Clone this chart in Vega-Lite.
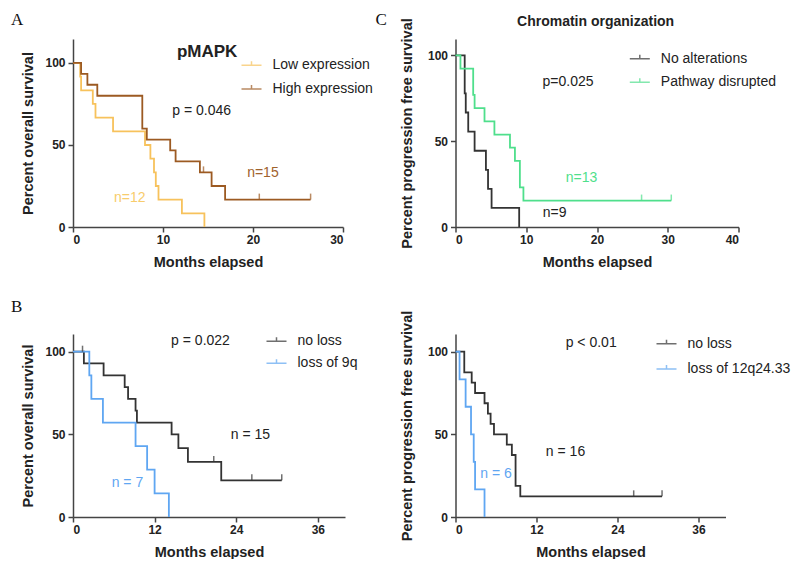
{
  "$schema": "https://vega.github.io/schema/vega-lite/v6.json",
  "background": "white",
  "padding": {"left": 10, "top": 10, "right": 0, "bottom": 0},
  "columns": 2,
  "bounds": "flush",
  "align": "each",
  "spacing": {"column": 110.5, "row": 107},
  "resolve": {
    "scale": {"color": "independent", "x": "independent", "y": "independent"},
    "legend": {"color": "independent"}
  },
  "concat": [
    {
      "width": 270,
      "height": 188,
      "layer": [
        {
          "data": {"values": [
            {"group": "Low expression", "t": 0, "s": 100},
            {"group": "Low expression", "t": 0.8, "s": 91.7},
            {"group": "Low expression", "t": 0.9, "s": 83.3},
            {"group": "Low expression", "t": 2.2, "s": 75},
            {"group": "Low expression", "t": 2.5, "s": 66.7},
            {"group": "Low expression", "t": 4.45, "s": 58.3},
            {"group": "Low expression", "t": 8.0, "s": 50},
            {"group": "Low expression", "t": 8.6, "s": 41.7},
            {"group": "Low expression", "t": 9.0, "s": 33.3},
            {"group": "Low expression", "t": 9.2, "s": 25},
            {"group": "Low expression", "t": 9.5, "s": 16.7},
            {"group": "Low expression", "t": 12.1, "s": 8.3},
            {"group": "Low expression", "t": 14.6, "s": 0},
            {"group": "High expression", "t": 0, "s": 100},
            {"group": "High expression", "t": 0.9, "s": 93.3},
            {"group": "High expression", "t": 1.6, "s": 86.7},
            {"group": "High expression", "t": 2.7, "s": 80},
            {"group": "High expression", "t": 7.7, "s": 60},
            {"group": "High expression", "t": 8.2, "s": 53.3},
            {"group": "High expression", "t": 10.8, "s": 46.7},
            {"group": "High expression", "t": 11.4, "s": 40},
            {"group": "High expression", "t": 14.1, "s": 33.3},
            {"group": "High expression", "t": 15.4, "s": 25},
            {"group": "High expression", "t": 16.9, "s": 16.7},
            {"group": "High expression", "t": 26.4, "s": 16.7}
          ]},
          "mark": {"type": "line", "interpolate": "step-after", "strokeWidth": 1.8},
          "encoding": {
            "x": {"field": "t", "type": "quantitative", "scale": {"domain": [0, 30], "nice": false, "zero": false}, "axis": {"values": [0, 10, 20, 30], "title": "Months elapsed"}},
            "y": {"field": "s", "type": "quantitative", "scale": {"domain": [0, 114.6], "nice": false}, "axis": {"values": [0, 50, 100], "title": "Percent overall survival"}},
            "color": {"field": "group", "type": "nominal", "scale": {"domain": ["Low expression", "High expression"], "range": ["#F7C25C", "#9C5A22"]}, "legend": {"legendX": 167.5, "legendY": 15.3, "rowPadding": 5.6}}
          }
        },
        {
          "data": {"values": [
            {"group": "High expression", "t": 14.5, "s": 33.3},
            {"group": "High expression", "t": 20.7, "s": 16.7},
            {"group": "High expression", "t": 26.4, "s": 16.7}
          ]},
          "mark": {"type": "tick", "orient": "vertical", "size": 6, "thickness": 1.5, "yOffset": -3},
          "encoding": {
            "x": {"field": "t", "type": "quantitative"},
            "y": {"field": "s", "type": "quantitative"},
            "color": {"field": "group", "type": "nominal"}
          }
        },
        {"data": {"values": [{}]}, "mark": {"type": "text", "text": "A", "font": "Liberation Serif", "fontSize": 17, "color": "#111"},
         "encoding": {"x": {"datum": -6.2, "type": "quantitative"}, "y": {"datum": 126, "type": "quantitative"}}},
        {"data": {"values": [{}]}, "mark": {"type": "text", "text": "pMAPK", "fontSize": 17, "fontWeight": "bold"},
         "encoding": {"x": {"datum": 14.9, "type": "quantitative"}, "y": {"datum": 106.7, "type": "quantitative"}}},
        {"data": {"values": [{}]}, "mark": {"type": "text", "text": "p = 0.046"},
         "encoding": {"x": {"datum": 14.3, "type": "quantitative"}, "y": {"datum": 70.7, "type": "quantitative"}}},
        {"data": {"values": [{}]}, "mark": {"type": "text", "text": "n=15", "color": "#A0622C"},
         "encoding": {"x": {"datum": 21.1, "type": "quantitative"}, "y": {"datum": 33.1, "type": "quantitative"}}},
        {"data": {"values": [{}]}, "mark": {"type": "text", "text": "n=12", "color": "#F8CC6C"},
         "encoding": {"x": {"datum": 6.3, "type": "quantitative"}, "y": {"datum": 17.9, "type": "quantitative"}}}
      ]
    },
    {
      "width": 283,
      "height": 188,
      "layer": [
        {
          "data": {"values": [
            {"group": "No alterations", "t": 0, "s": 100},
            {"group": "No alterations", "t": 1.3, "s": 77.8},
            {"group": "No alterations", "t": 1.45, "s": 66.7},
            {"group": "No alterations", "t": 1.8, "s": 55.6},
            {"group": "No alterations", "t": 2.7, "s": 44.4},
            {"group": "No alterations", "t": 4.3, "s": 33.3},
            {"group": "No alterations", "t": 4.6, "s": 22.2},
            {"group": "No alterations", "t": 5.1, "s": 11.1},
            {"group": "No alterations", "t": 9.0, "s": 0},
            {"group": "Pathway disrupted", "t": 0, "s": 100},
            {"group": "Pathway disrupted", "t": 0.7, "s": 92.3},
            {"group": "Pathway disrupted", "t": 2.5, "s": 76.9},
            {"group": "Pathway disrupted", "t": 2.7, "s": 69.2},
            {"group": "Pathway disrupted", "t": 4.1, "s": 61.5},
            {"group": "Pathway disrupted", "t": 5.5, "s": 53.8},
            {"group": "Pathway disrupted", "t": 7.7, "s": 46.2},
            {"group": "Pathway disrupted", "t": 8.4, "s": 38.5},
            {"group": "Pathway disrupted", "t": 9.1, "s": 23.1},
            {"group": "Pathway disrupted", "t": 9.6, "s": 15.4},
            {"group": "Pathway disrupted", "t": 30.5, "s": 15.4}
          ]},
          "mark": {"type": "line", "interpolate": "step-after", "strokeWidth": 1.8},
          "encoding": {
            "x": {"field": "t", "type": "quantitative", "scale": {"domain": [0, 40], "nice": false, "zero": false}, "axis": {"values": [0, 10, 20, 30, 40], "title": "Months elapsed"}},
            "y": {"field": "s", "type": "quantitative", "scale": {"domain": [0, 109.5], "nice": false}, "axis": {"values": [0, 50, 100], "title": "Percent progression free survival", "titlePadding": 13}},
            "color": {"field": "group", "type": "nominal", "scale": {"domain": ["No alterations", "Pathway disrupted"], "range": ["#333333", "#4FDF8C"]}, "legend": {"legendX": 173.3, "legendY": 8.7, "rowPadding": 5.6}}
          }
        },
        {
          "data": {"values": [
            {"group": "Pathway disrupted", "t": 26.3, "s": 15.4},
            {"group": "Pathway disrupted", "t": 30.5, "s": 15.4}
          ]},
          "mark": {"type": "tick", "orient": "vertical", "size": 6, "thickness": 1.5, "yOffset": -3},
          "encoding": {
            "x": {"field": "t", "type": "quantitative"},
            "y": {"field": "s", "type": "quantitative"},
            "color": {"field": "group", "type": "nominal"}
          }
        },
        {"data": {"values": [{}]}, "mark": {"type": "text", "text": "C", "font": "Liberation Serif", "fontSize": 17, "color": "#111"},
         "encoding": {"x": {"datum": -10.5, "type": "quantitative"}, "y": {"datum": 120.6, "type": "quantitative"}}},
        {"data": {"values": [{}]}, "mark": {"type": "text", "text": "Chromatin organization", "fontSize": 14, "fontWeight": "bold"},
         "encoding": {"x": {"datum": 19.8, "type": "quantitative"}, "y": {"datum": 119.6, "type": "quantitative"}}},
        {"data": {"values": [{}]}, "mark": {"type": "text", "text": "p=0.025"},
         "encoding": {"x": {"datum": 15.9, "type": "quantitative"}, "y": {"datum": 84.4, "type": "quantitative"}}},
        {"data": {"values": [{}]}, "mark": {"type": "text", "text": "n=13", "color": "#4FDF8C"},
         "encoding": {"x": {"datum": 17.8, "type": "quantitative"}, "y": {"datum": 28.7, "type": "quantitative"}}},
        {"data": {"values": [{}]}, "mark": {"type": "text", "text": "n=9"},
         "encoding": {"x": {"datum": 14.0, "type": "quantitative"}, "y": {"datum": 8.3, "type": "quantitative"}}}
      ]
    },
    {
      "width": 272,
      "height": 183,
      "layer": [
        {
          "data": {"values": [
            {"group": "no loss", "t": 0, "s": 100},
            {"group": "no loss", "t": 1.6, "s": 92.9},
            {"group": "no loss", "t": 4.5, "s": 85.7},
            {"group": "no loss", "t": 7.6, "s": 78.6},
            {"group": "no loss", "t": 8.1, "s": 71.4},
            {"group": "no loss", "t": 9.2, "s": 64.3},
            {"group": "no loss", "t": 9.4, "s": 57.1},
            {"group": "no loss", "t": 14.5, "s": 50},
            {"group": "no loss", "t": 15.5, "s": 41.7},
            {"group": "no loss", "t": 16.9, "s": 33.3},
            {"group": "no loss", "t": 21.8, "s": 22.2},
            {"group": "no loss", "t": 30.7, "s": 22.2},
            {"group": "loss of 9q", "t": 0, "s": 100},
            {"group": "loss of 9q", "t": 2.4, "s": 85.7},
            {"group": "loss of 9q", "t": 2.7, "s": 71.4},
            {"group": "loss of 9q", "t": 4.4, "s": 57.1},
            {"group": "loss of 9q", "t": 9.2, "s": 42.9},
            {"group": "loss of 9q", "t": 10.9, "s": 28.6},
            {"group": "loss of 9q", "t": 12.0, "s": 14.3},
            {"group": "loss of 9q", "t": 14.1, "s": 0}
          ]},
          "mark": {"type": "line", "interpolate": "step-after", "strokeWidth": 1.8},
          "encoding": {
            "x": {"field": "t", "type": "quantitative", "scale": {"domain": [0, 40], "nice": false, "zero": false}, "axis": {"values": [0, 12, 24, 36], "title": "Months elapsed"}},
            "y": {"field": "s", "type": "quantitative", "scale": {"domain": [0, 110.7], "nice": false}, "axis": {"values": [0, 50, 100], "title": "Percent overall survival"}},
            "color": {"field": "group", "type": "nominal", "scale": {"domain": ["no loss", "loss of 9q"], "range": ["#333333", "#5FA6F2"]}, "legend": {"legendX": 192.5, "legendY": -3.7, "rowPadding": 4}}
          }
        },
        {
          "data": {"values": [
            {"group": "no loss", "t": 1.4, "s": 100},
            {"group": "no loss", "t": 20.7, "s": 33.3},
            {"group": "no loss", "t": 26.3, "s": 22.2},
            {"group": "no loss", "t": 30.7, "s": 22.2}
          ]},
          "mark": {"type": "tick", "orient": "vertical", "size": 6, "thickness": 1.5, "yOffset": -3},
          "encoding": {
            "x": {"field": "t", "type": "quantitative"},
            "y": {"field": "s", "type": "quantitative"},
            "color": {"field": "group", "type": "nominal"}
          }
        },
        {"data": {"values": [{}]}, "mark": {"type": "text", "text": "B", "font": "Liberation Serif", "fontSize": 17, "color": "#111"},
         "encoding": {"x": {"datum": -8.3, "type": "quantitative"}, "y": {"datum": 127, "type": "quantitative"}}},
        {"data": {"values": [{}]}, "mark": {"type": "text", "text": "p = 0.022"},
         "encoding": {"x": {"datum": 18.75, "type": "quantitative"}, "y": {"datum": 106.5, "type": "quantitative"}}},
        {"data": {"values": [{}]}, "mark": {"type": "text", "text": "n = 15"},
         "encoding": {"x": {"datum": 26.1, "type": "quantitative"}, "y": {"datum": 49.6, "type": "quantitative"}}},
        {"data": {"values": [{}]}, "mark": {"type": "text", "text": "n = 7", "color": "#5FA6F2"},
         "encoding": {"x": {"datum": 8.0, "type": "quantitative"}, "y": {"datum": 20.8, "type": "quantitative"}}}
      ]
    },
    {
      "width": 270,
      "height": 183,
      "layer": [
        {
          "data": {"values": [
            {"group": "no loss", "t": 0, "s": 100},
            {"group": "no loss", "t": 1.3, "s": 87.5},
            {"group": "no loss", "t": 2.4, "s": 81.3},
            {"group": "no loss", "t": 2.9, "s": 75},
            {"group": "no loss", "t": 4.3, "s": 68.8},
            {"group": "no loss", "t": 4.8, "s": 62.5},
            {"group": "no loss", "t": 5.2, "s": 56.3},
            {"group": "no loss", "t": 5.7, "s": 50},
            {"group": "no loss", "t": 7.6, "s": 43.8},
            {"group": "no loss", "t": 8.35, "s": 37.5},
            {"group": "no loss", "t": 8.9, "s": 18.8},
            {"group": "no loss", "t": 9.6, "s": 12.5},
            {"group": "no loss", "t": 30.6, "s": 12.5},
            {"group": "loss of 12q24.33", "t": 0, "s": 100},
            {"group": "loss of 12q24.33", "t": 0.6, "s": 83.3},
            {"group": "loss of 12q24.33", "t": 1.5, "s": 66.7},
            {"group": "loss of 12q24.33", "t": 2.3, "s": 50},
            {"group": "loss of 12q24.33", "t": 2.7, "s": 33.3},
            {"group": "loss of 12q24.33", "t": 2.9, "s": 16.7},
            {"group": "loss of 12q24.33", "t": 4.3, "s": 0}
          ]},
          "mark": {"type": "line", "interpolate": "step-after", "strokeWidth": 1.8},
          "encoding": {
            "x": {"field": "t", "type": "quantitative", "scale": {"domain": [0, 40], "nice": false, "zero": false}, "axis": {"values": [0, 12, 24, 36], "title": "Months elapsed"}},
            "y": {"field": "s", "type": "quantitative", "scale": {"domain": [0, 110.7], "nice": false}, "axis": {"values": [0, 50, 100], "title": "Percent progression free survival", "titlePadding": 13}},
            "color": {"field": "group", "type": "nominal", "scale": {"domain": ["no loss", "loss of 12q24.33"], "range": ["#333333", "#5FA6F2"]}, "legend": {"legendX": 200, "legendY": -1.3, "rowPadding": 7.3}}
          }
        },
        {
          "data": {"values": [
            {"group": "no loss", "t": 26.4, "s": 12.5},
            {"group": "no loss", "t": 30.6, "s": 12.5}
          ]},
          "mark": {"type": "tick", "orient": "vertical", "size": 6, "thickness": 1.5, "yOffset": -3},
          "encoding": {
            "x": {"field": "t", "type": "quantitative"},
            "y": {"field": "s", "type": "quantitative"},
            "color": {"field": "group", "type": "nominal"}
          }
        },
        {"data": {"values": [{}]}, "mark": {"type": "text", "text": "p < 0.01"},
         "encoding": {"x": {"datum": 20.1, "type": "quantitative"}, "y": {"datum": 105.1, "type": "quantitative"}}},
        {"data": {"values": [{}]}, "mark": {"type": "text", "text": "n = 16"},
         "encoding": {"x": {"datum": 16.3, "type": "quantitative"}, "y": {"datum": 39.3, "type": "quantitative"}}},
        {"data": {"values": [{}]}, "mark": {"type": "text", "text": "n = 6", "color": "#5FA6F2"},
         "encoding": {"x": {"datum": 6.0, "type": "quantitative"}, "y": {"datum": 26.2, "type": "quantitative"}}}
      ]
    }
  ],
  "config": {
    "font": "Liberation Sans",
    "view": {"stroke": null},
    "axis": {
      "grid": false,
      "labelFont": "Liberation Sans",
      "labelFontSize": 12,
      "labelFontWeight": "bold",
      "labelColor": "#222",
      "titleFont": "Liberation Sans",
      "titleFontSize": 14.5,
      "titleFontWeight": "bold",
      "titleColor": "#222",
      "domainColor": "#444",
      "domainWidth": 1.5,
      "tickColor": "#444",
      "tickWidth": 1.5,
      "tickSize": 5,
      "labelPadding": 2
    },
    "axisX": {"titlePadding": 10},
    "axisY": {"titlePadding": 9, "labelPadding": 3},
    "legend": {
      "orient": "none",
      "title": null,
      "labelFont": "Liberation Sans",
      "labelFontSize": 14,
      "labelColor": "#222",
      "symbolType": "M-1,0H1M0,0V-0.4",
      "symbolSize": 400,
      "symbolStrokeWidth": 1.5,
      "labelOffset": 10
    },
    "text": {"font": "Liberation Sans", "fontSize": 14, "color": "#222"}
  }
}
